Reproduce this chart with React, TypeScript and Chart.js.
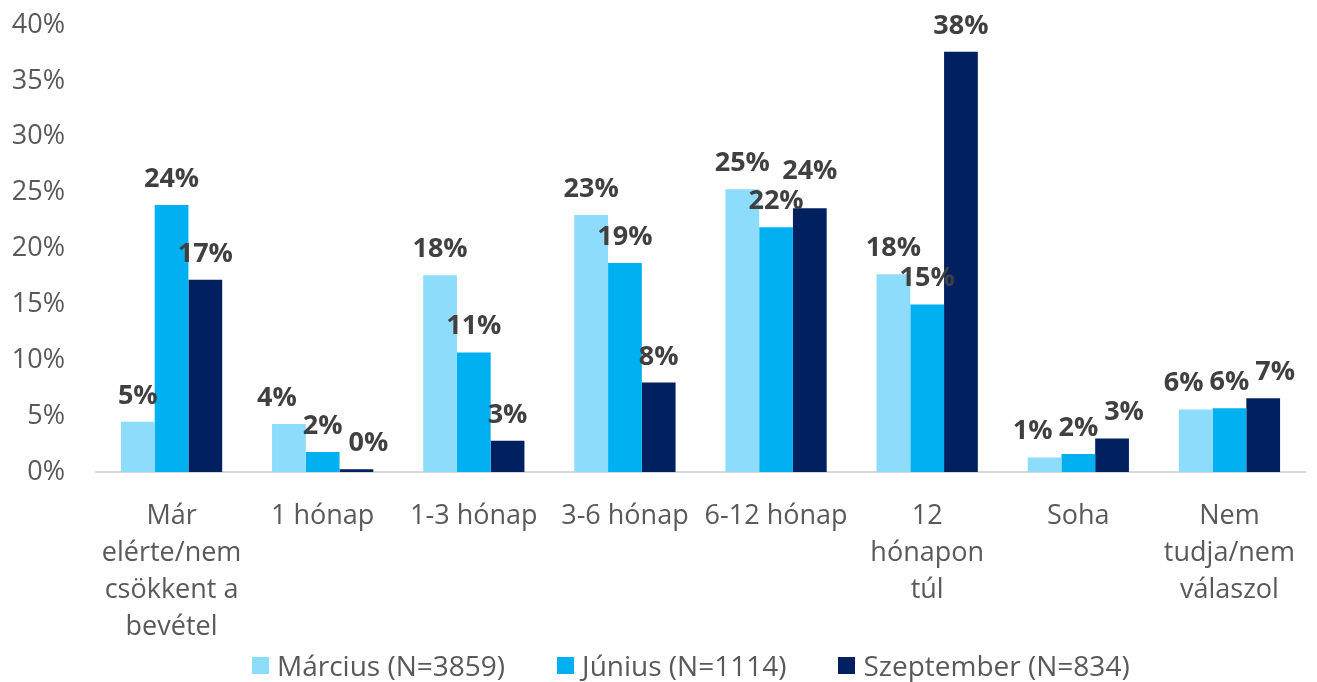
import React, { useEffect, useRef } from "react";
import { Chart, registerables } from "chart.js";

Chart.register(...registerables);

const categories: string[][] = [
  ["Már", "elérte/nem", "csökkent a", "bevétel"],
  ["1 hónap"],
  ["1-3 hónap"],
  ["3-6 hónap"],
  ["6-12 hónap"],
  ["12", "hónapon", "túl"],
  ["Soha"],
  ["Nem", "tudja/nem", "válaszol"],
];

const seriesNames = ["Március (N=3859)", "Június (N=1114)", "Szeptember (N=834)"];
const seriesColors = ["#8EDCFB", "#00B0F0", "#002060"];

const marcius = [4.5, 4.3, 17.6, 23.0, 25.3, 17.7, 1.3, 5.6];
const junius = [23.9, 1.8, 10.7, 18.7, 21.9, 15.0, 1.6, 5.7];
const szeptember = [17.2, 0.25, 2.8, 8.0, 23.6, 37.6, 3.0, 6.6];

const yMax = 40;
const yStep = 5;

const FONT = '"Open Sans", "DejaVu Sans", sans-serif';

const labelPlugin = {
  id: "barLabels",
  afterDatasetsDraw(chart: any) {
    const ctx = chart.ctx;
    ctx.save();
    ctx.font = `bold 27px ${FONT}`;
    ctx.fillStyle = "#404040";
    ctx.textAlign = "center";
    ctx.textBaseline = "alphabetic";
    const n = chart.data.labels.length;
    for (let i = 0; i < n; i++) {
      const items = chart.data.datasets.map((ds: any, d: number) => {
        const el = chart.getDatasetMeta(d).data[i];
        const text = Math.round(ds.data[i]) + "%";
        return { x: el.x, y: el.y - 18, w: ctx.measureText(text).width, text };
      });
      // large conflicts: lift the higher label above the other
      for (let k = 1; k < items.length; k++) {
        const a = items[k - 1];
        const b = items[k];
        if (Math.abs(a.y - b.y) < 30) {
          const d = (a.w + b.w) / 2 + 6 - (b.x - a.x);
          if (d > 24) {
            if (b.y <= a.y) b.y = a.y - 30;
            else a.y = b.y - 30;
          }
        }
      }
      // small conflicts: spread sideways
      for (let iter = 0; iter < 30; iter++) {
        for (let k = 1; k < items.length; k++) {
          const a = items[k - 1];
          const b = items[k];
          if (Math.abs(a.y - b.y) < 30) {
            const d = (a.w + b.w) / 2 + 6 - (b.x - a.x);
            if (d > 0.1) {
              a.x -= d / 2;
              b.x += d / 2;
            }
          }
        }
      }
      items.forEach((it: any) => ctx.fillText(it.text, it.x, it.y));
    }
    ctx.restore();
  },
};

export default function App() {
  const canvasRef = useRef<HTMLCanvasElement | null>(null);

  useEffect(() => {
    if (!canvasRef.current) return;
    const seriesData = [marcius, junius, szeptember];
    const chart = new Chart(canvasRef.current, {
      type: "bar",
      data: {
        labels: categories,
        datasets: seriesNames.map((name, i) => ({
          label: name,
          data: seriesData[i],
          backgroundColor: seriesColors[i],
          borderWidth: 0,
          categoryPercentage: 0.67,
          barPercentage: 1.0,
        })),
      },
      options: {
        animation: false,
        responsive: false,
        devicePixelRatio: 1,
        layout: { padding: { top: 25, right: 12, left: 0, bottom: 30 } },
        plugins: {
          legend: { display: false },
          tooltip: { enabled: false },
        },
        scales: {
          x: {
            grid: { display: false },
            border: { display: true, color: "#D9D9D9", width: 2 },
            ticks: {
              color: "#595959",
              font: { family: FONT, size: 27, lineHeight: 1.37 },
              maxRotation: 0,
              autoSkip: false,
              padding: 18,
            },
            afterFit: (scale: any) => {
              scale.height = 180;
            },
          },
          y: {
            min: 0,
            max: yMax,
            grid: { display: false },
            border: { display: false },
            ticks: {
              stepSize: yStep,
              color: "#595959",
              font: { family: FONT, size: 27 },
              padding: 23,
              callback: (v: any) => v + "%",
            },
            afterFit: (scale: any) => {
              scale.width = 96;
              scale.paddingTop = 16;
              scale.paddingBottom = 16;
            },
          },
        },
      },
      plugins: [labelPlugin],
    });
    return () => chart.destroy();
  }, []);

  return (
    <div style={{ position: "fixed", left: 0, top: 0, width: 1317, height: 682, background: "#fff" }}>
      <canvas ref={canvasRef} width={1317} height={682} style={{ display: "block" }} />
      <div
        style={{
          position: "absolute",
          left: 252,
          top: 646,
          height: 38,
          display: "flex",
          alignItems: "center",
          gap: 52,
          fontFamily: FONT,
          fontSize: 28,
          color: "#595959",
          whiteSpace: "nowrap",
        }}
      >
        {seriesNames.map((name, i) => (
          <div key={name} style={{ display: "flex", alignItems: "center", gap: 8 }}>
            <span style={{ display: "inline-block", width: 17, height: 17, background: seriesColors[i] }} />
            <span>{name}</span>
          </div>
        ))}
      </div>
    </div>
  );
}
